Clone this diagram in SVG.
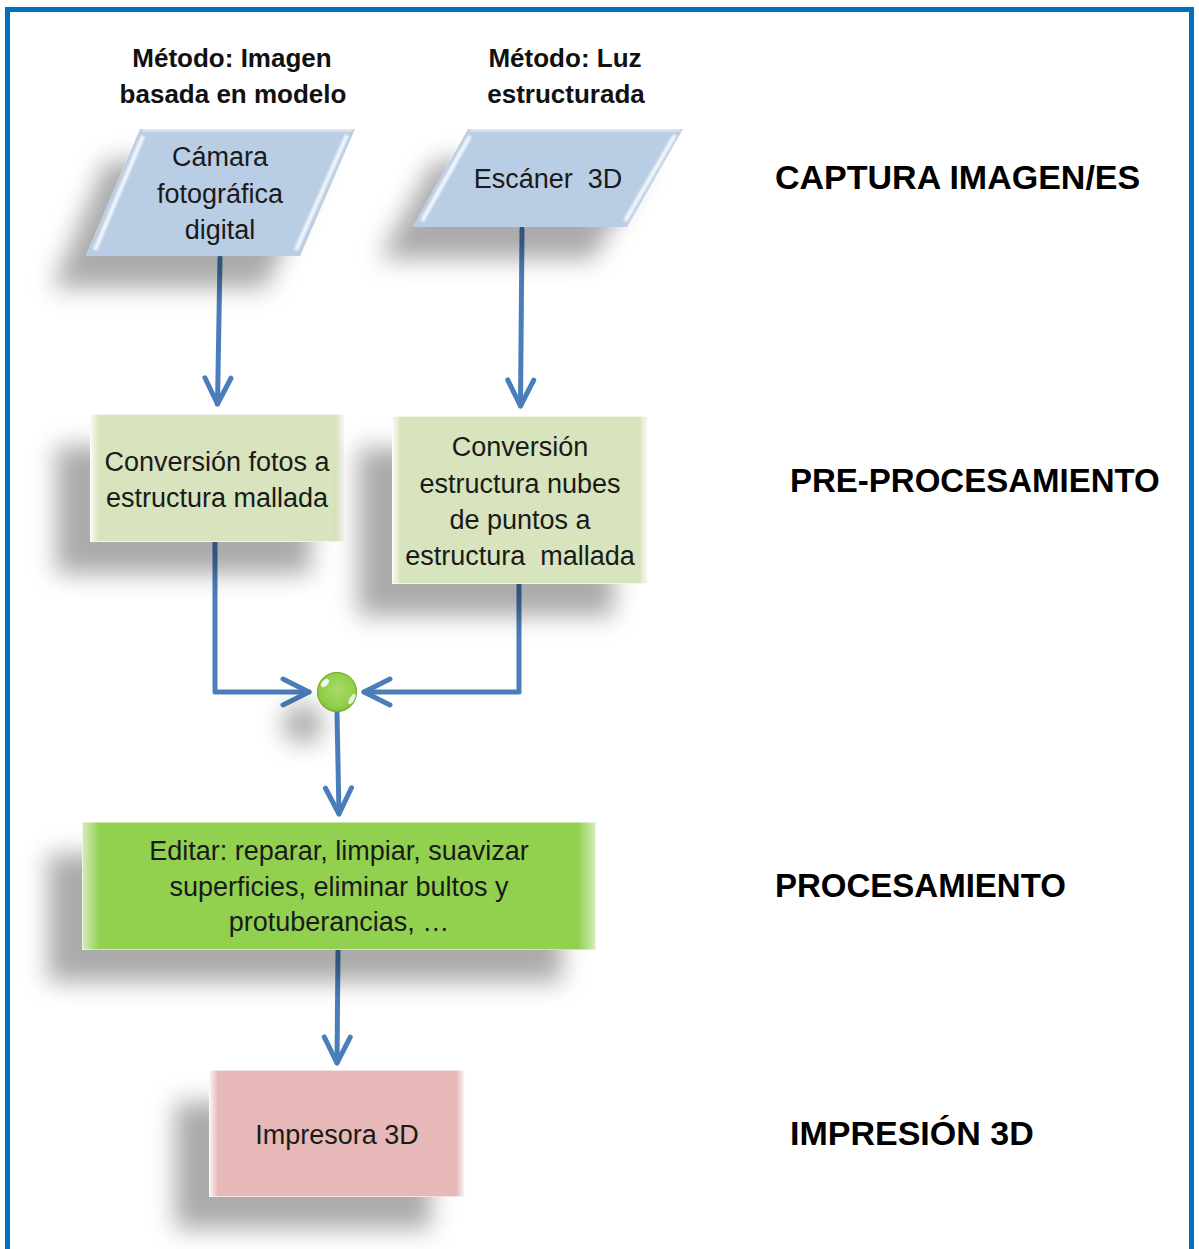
<svg xmlns="http://www.w3.org/2000/svg" width="1199" height="1249" viewBox="0 0 1199 1249">
  <style>
    .hdr { font-family: "Liberation Sans", Arial, sans-serif; font-weight: bold; font-size: 26px; fill: #111; text-anchor: middle; }
    .stage { font-family: "Liberation Sans", Arial, sans-serif; font-weight: bold; font-size: 34px; fill: #000; }
    .stage.sm { font-size: 33px; }
    .lbl { font-family: "Liberation Sans", Arial, sans-serif; font-size: 27px; fill: #1a1a1a; text-anchor: middle; white-space: pre; }
    .conn { fill: none; stroke: #4A7EBB; stroke-width: 5; stroke-linejoin: round; stroke-linecap: round; }
    .edge { fill: none; stroke: #fff; stroke-width: 4; stroke-opacity: 0.85; }
  </style>
  <defs>
    <filter id="shadow" filterUnits="userSpaceOnUse" x="0" y="0" width="1199" height="1249">
      <feGaussianBlur in="SourceAlpha" stdDeviation="12" result="b"/>
      <feOffset in="b" dx="-34" dy="32" result="o"/>
      <feFlood flood-color="#000" flood-opacity="0.33"/>
      <feComposite in2="o" operator="in" result="s"/>
      <feMerge><feMergeNode in="s"/><feMergeNode in="SourceGraphic"/></feMerge>
    </filter>
    <filter id="soft" x="-20%" y="-20%" width="140%" height="140%">
      <feGaussianBlur stdDeviation="1.2"/>
    </filter>
    <linearGradient id="bevel" x1="0" y1="0" x2="1" y2="0">
      <stop offset="0" stop-color="#fff" stop-opacity="0.9"/>
      <stop offset="0.035" stop-color="#fff" stop-opacity="0"/>
      <stop offset="0.965" stop-color="#fff" stop-opacity="0"/>
      <stop offset="1" stop-color="#fff" stop-opacity="0.9"/>
    </linearGradient>
    <radialGradient id="ball" cx="0.5" cy="0.45" r="0.55">
      <stop offset="0" stop-color="#a8dc6a"/>
      <stop offset="0.8" stop-color="#8fcd48"/>
      <stop offset="1" stop-color="#7dbb38"/>
    </radialGradient>
    <marker id="arrow" viewBox="-30 -16 34 32" refX="0" refY="0" markerWidth="34" markerHeight="32" markerUnits="userSpaceOnUse" orient="auto">
      <path d="M-26,-13 L0,0 L-26,13" fill="none" stroke="#4A7EBB" stroke-width="5" stroke-linecap="round" stroke-linejoin="round"/>
    </marker>
  </defs>

  <rect width="1199" height="1249" fill="#fff"/>
  <!-- outer frame -->
  <rect x="7.5" y="9.5" width="1184" height="1260" fill="none" stroke="#0070C0" stroke-width="5"/>

  <!-- method headers -->
  <text class="hdr" x="232" y="67">Método: Imagen</text>
  <text class="hdr" x="233" y="103">basada en modelo</text>
  <text class="hdr" x="565" y="67">Método: Luz</text>
  <text class="hdr" x="566" y="103">estructurada</text>

  <!-- stage labels -->
  <text class="stage" x="775" y="189">CAPTURA IMAGEN/ES</text>
  <text class="stage sm" x="790" y="492">PRE-PROCESAMIENTO</text>
  <text class="stage sm" x="775" y="897">PROCESAMIENTO</text>
  <text class="stage" x="790" y="1145">IMPRESIÓN 3D</text>

  <!-- connectors -->
  <g id="connectors">
    <path class="conn" d="M220,258 L217.5,404" marker-end="url(#arrow)"/>
    <path class="conn" d="M522,229 L520.5,406" marker-end="url(#arrow)"/>
    <path class="conn" d="M215,543 V692 H309" marker-end="url(#arrow)"/>
    <path class="conn" d="M519,585 V692 H364" marker-end="url(#arrow)"/>
    <path class="conn" d="M337,713 L339,814" marker-end="url(#arrow)"/>
    <path class="conn" d="M338,951 L337,1063" marker-end="url(#arrow)"/>
  </g>

  <!-- capture: camera -->
  <g id="camara">
    <g filter="url(#shadow)">
      <polygon points="140,129 355,129 300,256 86,256" fill="#B9CDE5"/>
    </g>
    <g filter="url(#soft)">
      <line class="edge" x1="143" y1="136" x2="95" y2="250"/>
      <line class="edge" x1="347" y1="135" x2="296" y2="250"/>
      <line x1="142" y1="130" x2="353" y2="130" stroke="#fff" stroke-width="2" stroke-opacity="0.8"/>
    </g>
    <text class="lbl" x="220" y="166">Cámara</text>
    <text class="lbl" x="220" y="203">fotográfica</text>
    <text class="lbl" x="220" y="239">digital</text>
  </g>

  <!-- capture: 3D scanner -->
  <g id="escaner">
    <g filter="url(#shadow)">
      <polygon points="468,129 683,129 627,227 413,227" fill="#B9CDE5"/>
    </g>
    <g filter="url(#soft)">
      <line class="edge" x1="470" y1="136" x2="422" y2="221"/>
      <line class="edge" x1="675" y1="135" x2="625" y2="221"/>
      <line x1="470" y1="130" x2="681" y2="130" stroke="#fff" stroke-width="2" stroke-opacity="0.8"/>
    </g>
    <text class="lbl" x="548" y="188">Escáner  3D</text>
  </g>

  <!-- pre-processing: photos to mesh -->
  <g id="conv-fotos">
    <rect x="90" y="414" width="255" height="128" fill="#D7E4BD" filter="url(#shadow)"/>
    <rect x="90" y="414" width="255" height="128" fill="url(#bevel)"/>
    <rect x="90.5" y="414.5" width="254" height="127" fill="none" stroke="#fff" stroke-opacity="0.6"/>
    <text class="lbl" x="217" y="471">Conversión fotos a</text>
    <text class="lbl" x="217" y="507">estructura mallada</text>
  </g>

  <!-- pre-processing: point cloud to mesh -->
  <g id="conv-nubes">
    <rect x="392" y="416" width="256" height="168" fill="#D7E4BD" filter="url(#shadow)"/>
    <rect x="392" y="416" width="256" height="168" fill="url(#bevel)"/>
    <rect x="392.5" y="416.5" width="255" height="167" fill="none" stroke="#fff" stroke-opacity="0.6"/>
    <text class="lbl" x="520" y="456">Conversión</text>
    <text class="lbl" x="520" y="493">estructura nubes</text>
    <text class="lbl" x="520" y="529">de puntos a</text>
    <text class="lbl" x="520" y="565">estructura  mallada</text>
  </g>

  <!-- merge point -->
  <g id="union">
    <circle cx="337" cy="692" r="20" fill="url(#ball)" filter="url(#shadow)"/>
    <circle cx="337" cy="692" r="19.5" fill="none" stroke="#6fae2e" stroke-width="1"/>
    <ellipse cx="325" cy="683" rx="5" ry="3" transform="rotate(-45 325 683)" fill="#fff" fill-opacity="0.85"/>
    <ellipse cx="352" cy="699" rx="2.5" ry="6" transform="rotate(30 352 699)" fill="#fff" fill-opacity="0.75"/>
  </g>

  <!-- processing -->
  <g id="editar">
    <rect x="82" y="822" width="514" height="128" fill="#92D050" filter="url(#shadow)"/>
    <rect x="82" y="822" width="514" height="128" fill="url(#bevel)" opacity="0.7"/>
    <rect x="82.5" y="822.5" width="513" height="127" fill="none" stroke="#fff" stroke-opacity="0.5"/>
    <text class="lbl" x="339" y="860">Editar: reparar, limpiar, suavizar</text>
    <text class="lbl" x="339" y="896">superficies, eliminar bultos y</text>
    <text class="lbl" x="339" y="931">protuberancias, …</text>
  </g>

  <!-- 3D printing -->
  <g id="impresora">
    <rect x="209" y="1070" width="256" height="127" fill="#E6B9B8" filter="url(#shadow)"/>
    <rect x="209" y="1070" width="256" height="127" fill="url(#bevel)"/>
    <rect x="209.5" y="1070.5" width="255" height="126" fill="none" stroke="#fff" stroke-opacity="0.6"/>
    <text class="lbl" x="337" y="1144">Impresora 3D</text>
  </g>
</svg>
